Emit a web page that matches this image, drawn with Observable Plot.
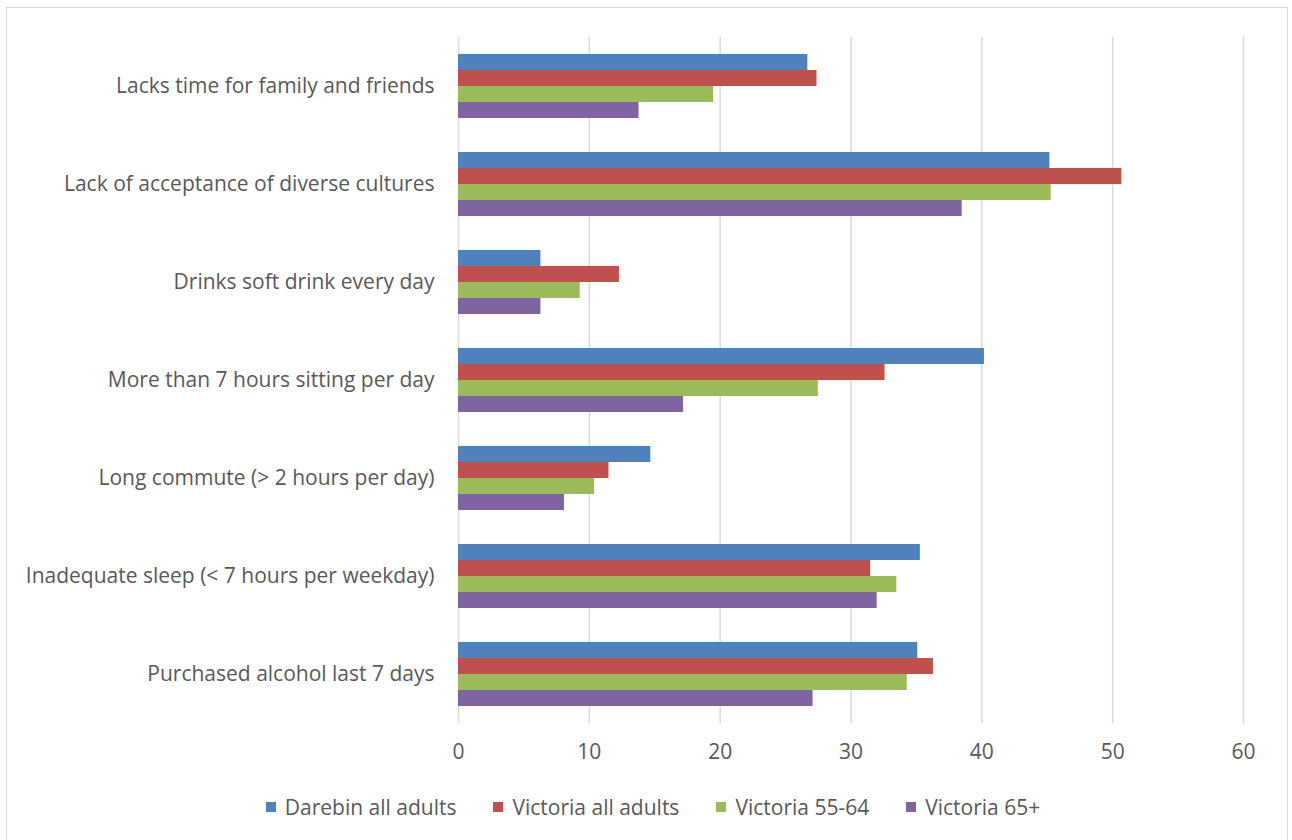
<!DOCTYPE html>
<html>
<head>
<meta charset="utf-8">
<script src="https://cdn.jsdelivr.net/npm/d3@7"></script>
<script src="https://cdn.jsdelivr.net/npm/@observablehq/plot@0.6"></script>
<style>
  html, body { margin: 0; padding: 0; background: #fff; }
  body { width: 1292px; height: 840px; position: relative; overflow: hidden; font-family: "Open Sans", sans-serif; }
  #frame { position: absolute; left: 6px; top: 7px; width: 1282px; height: 850px; border: 1px solid #d9d9d9; box-sizing: border-box; }
  #chart { position: absolute; left: 0; top: 0; }
  #legend { position: absolute; left: 0; top: 793px; width: 1292px; display: flex; justify-content: center; gap: 37px; color: #595959; font-size: 21px; padding-left: 14px; box-sizing: border-box; }
  #legend .item { display: flex; align-items: center; gap: 9px; }
  #legend .sw { width: 10px; height: 10px; display: inline-block; }
</style>
</head>
<body>
<div id="frame"></div>
<div id="chart"></div>
<div id="legend"></div>
<script>
const categories = [
  "Lacks time for family and friends",
  "Lack of acceptance of diverse cultures",
  "Drinks soft drink every day",
  "More than 7 hours sitting per day",
  "Long commute (> 2 hours per day)",
  "Inadequate sleep (< 7 hours per weekday)",
  "Purchased alcohol last 7 days"
];
const seriesNames = ["Darebin all adults", "Victoria all adults", "Victoria 55-64", "Victoria 65+"];
const seriesColors = ["#4F81BD", "#C0504D", "#9BBB59", "#8064A2"];
const darebinAll = [26.7, 45.2, 6.3, 40.2, 14.7, 35.3, 35.1];
const victoriaAll = [27.4, 50.7, 12.3, 32.6, 11.5, 31.5, 36.3];
const victoria5564 = [19.5, 45.3, 9.3, 27.5, 10.4, 33.5, 34.3];
const victoria65 = [13.8, 38.5, 6.3, 17.2, 8.1, 32.0, 27.1];
const xTicks = [0, 10, 20, 30, 40, 50, 60];

const seriesValues = [darebinAll, victoriaAll, victoria5564, victoria65];
const rows = [];
categories.forEach((c, i) => {
  seriesNames.forEach((s, j) => rows.push({category: c, series: s, value: seriesValues[j][i]}));
});

const chart = Plot.plot({
  width: 1292,
  height: 780,
  marginLeft: 458,
  marginRight: 49,
  marginTop: 37,
  marginBottom: 57,
  style: {fontFamily: "'Open Sans', sans-serif", fontSize: "21px", color: "#595959", background: "transparent"},
  facet: {data: rows, y: "category"},
  fy: {domain: categories, padding: 0, label: null, tickSize: 0, tickPadding: 24},
  y: {domain: seriesNames, paddingInner: 0, paddingOuter: 0.91, axis: null},
  x: {domain: [0, 60], ticks: xTicks, tickSize: 0, tickPadding: 21, label: null, tickFormat: d => String(d)},
  color: {domain: seriesNames, range: seriesColors},
  marks: [
    Plot.ruleX(xTicks, {x: d => d, stroke: "#d9d9d9", strokeWidth: 1.5}),
    Plot.barX(rows, {x: "value", y: "series", fill: "series"})
  ]
});
document.getElementById("chart").appendChild(chart);

const legend = document.getElementById("legend");
seriesNames.forEach((s, i) => {
  const item = document.createElement("div");
  item.className = "item";
  const sw = document.createElement("span");
  sw.className = "sw";
  sw.style.background = seriesColors[i];
  const t = document.createElement("span");
  t.textContent = s;
  item.appendChild(sw);
  item.appendChild(t);
  legend.appendChild(item);
});
</script>
</body>
</html>
